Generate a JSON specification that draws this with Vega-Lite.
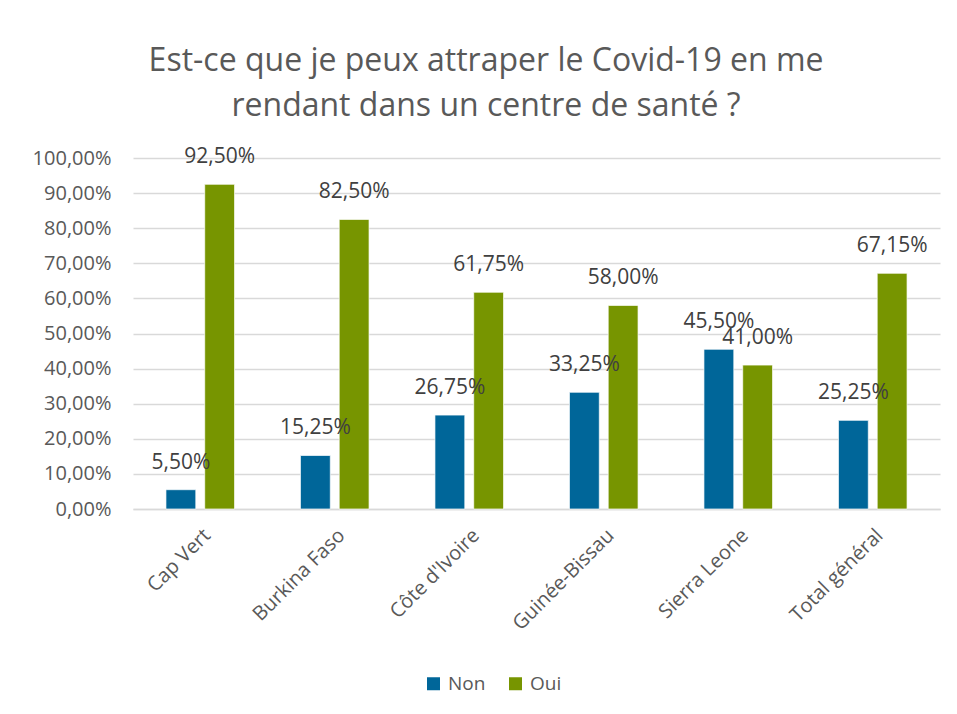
{
  "$schema": "https://vega.github.io/schema/vega-lite/v6.json",
  "width": 807,
  "height": 351,
  "autosize": {"type": "none"},
  "padding": {"left": 133, "top": 158, "right": 17, "bottom": 205},
  "background": "white",
  "title": {
    "text": ["Est-ce que je peux attraper le Covid-19 en me", "rendant dans un centre de santé ?"],
    "font": "Open Sans",
    "fontSize": 32,
    "fontWeight": "normal",
    "color": "#595959",
    "lineHeight": 45,
    "anchor": "middle",
    "frame": "bounds",
    "offset": 23
  },
  "data": {
    "values": [
      {"pays": "Cap Vert", "reponse": "Non", "valeur": 0.055},
      {"pays": "Cap Vert", "reponse": "Oui", "valeur": 0.925},
      {"pays": "Burkina Faso", "reponse": "Non", "valeur": 0.1525},
      {"pays": "Burkina Faso", "reponse": "Oui", "valeur": 0.825},
      {"pays": "Côte d'Ivoire", "reponse": "Non", "valeur": 0.2675},
      {"pays": "Côte d'Ivoire", "reponse": "Oui", "valeur": 0.6175},
      {"pays": "Guinée-Bissau", "reponse": "Non", "valeur": 0.3325},
      {"pays": "Guinée-Bissau", "reponse": "Oui", "valeur": 0.58},
      {"pays": "Sierra Leone", "reponse": "Non", "valeur": 0.455},
      {"pays": "Sierra Leone", "reponse": "Oui", "valeur": 0.41},
      {"pays": "Total général", "reponse": "Non", "valeur": 0.2525},
      {"pays": "Total général", "reponse": "Oui", "valeur": 0.6715}
    ]
  },
  "encoding": {
    "x": {
      "field": "pays",
      "type": "nominal",
      "sort": null,
      "scale": {"paddingInner": 0.49, "paddingOuter": 0.245},
      "axis": {
        "title": null,
        "labelAngle": -45,
        "labelAlign": "right",
        "labelBaseline": "top",
        "labelPadding": 16,
        "ticks": false,
        "domainColor": "#d9d9d9",
        "domainWidth": 1.5,
        "labelFont": "Open Sans",
        "labelFontSize": 20,
        "labelColor": "#595959"
      }
    },
    "xOffset": {
      "field": "reponse",
      "type": "nominal",
      "scale": {"paddingInner": 0.23, "paddingOuter": 0}
    },
    "y": {
      "field": "valeur",
      "type": "quantitative",
      "scale": {"domain": [0, 1]},
      "axis": {
        "title": null,
        "values": [0, 0.1, 0.2, 0.3, 0.4, 0.5, 0.6, 0.7, 0.8, 0.9, 1],
        "format": ".2%",
        "ticks": false,
        "domain": false,
        "labelPadding": 22,
        "gridColor": "#d9d9d9",
        "gridWidth": 1.5,
        "labelFont": "Open Sans",
        "labelFontSize": 20,
        "labelColor": "#595959"
      }
    }
  },
  "layer": [
    {
      "mark": {"type": "bar", "stroke": "white", "strokeWidth": 0.7},
      "encoding": {
        "color": {
          "field": "reponse",
          "type": "nominal",
          "scale": {"domain": ["Non", "Oui"], "range": ["#006699", "#779500"]},
          "legend": {
            "title": null,
            "orient": "none",
            "direction": "horizontal",
            "legendX": 291,
            "legendY": 516,
            "symbolType": "square",
            "symbolSize": 169,
            "symbolStrokeWidth": 0,
            "labelFont": "Open Sans",
            "labelFontSize": 19,
            "labelColor": "#595959",
            "columnPadding": 20,
            "labelOffset": 5
          }
        }
      }
    },
    {
      "mark": {
        "type": "text",
        "baseline": "middle",
        "dy": -27,
        "font": "Open Sans",
        "fontSize": 21,
        "color": "#404040"
      },
      "encoding": {
        "text": {"field": "valeur", "type": "quantitative", "format": ".2%"}
      }
    }
  ],
  "config": {
    "locale": {
      "number": {
        "decimal": ",",
        "thousands": " ",
        "grouping": [3],
        "currency": ["", " €"]
      }
    },
    "view": {"stroke": null}
  }
}
